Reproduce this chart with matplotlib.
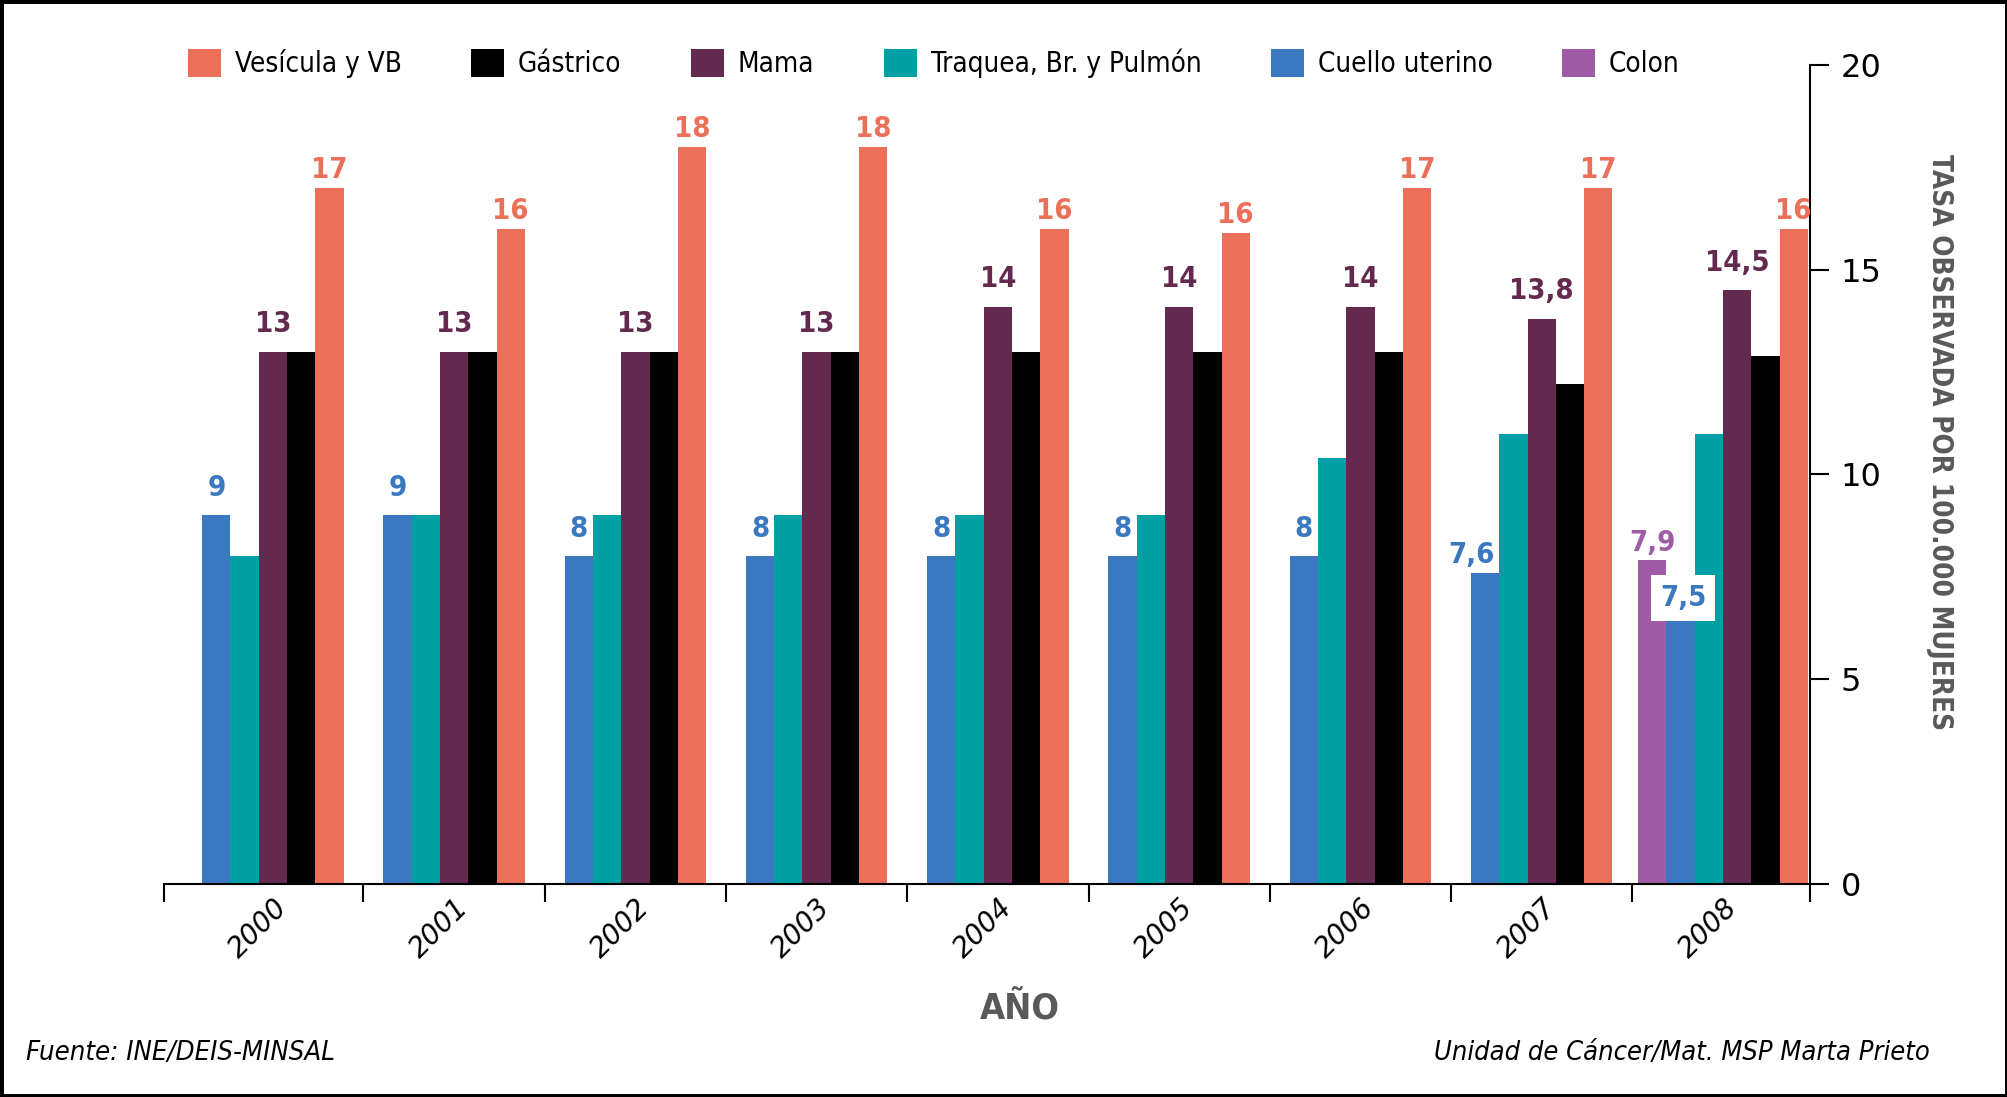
import numpy as np
import matplotlib
matplotlib.use("Agg")
import matplotlib.pyplot as plt
from matplotlib import font_manager
from matplotlib.patches import Patch, Rectangle

# datos (tasa observada por 100.000 mujeres)
years = ["2000", "2001", "2002", "2003", "2004", "2005", "2006", "2007", "2008"]
vesicula = [17, 16, 18, 18, 16, 15.9, 17, 17, 16]
gastrico = [13, 13, 13, 13, 13, 13, 13, 12.2, 12.9]
mama = [13, 13, 13, 13, 14.1, 14.1, 14.1, 13.8, 14.5]
traquea = [8, 9, 9, 9, 9, 9, 10.4, 11.0, 11.0]
cuello = [9, 9, 8, 8, 8, 8, 8, 7.6, 7.5]
colon = [np.nan] * 8 + [7.9]

vesicula_lbl = ["17", "16", "18", "18", "16", "16", "17", "17", "16"]
mama_lbl = ["13", "13", "13", "13", "14", "14", "14", "13,8", "14,5"]
cuello_lbl = ["9", "9", "8", "8", "8", "8", "8", "7,6", "7,5"]
colon_lbl = [""] * 8 + ["7,9"]

legend_names = ["Vesícula y VB", "Gástrico", "Mama", "Traquea, Br. y Pulmón",
                "Cuello uterino", "Colon"]

colores = {
    "vesicula": "#EC6F5A",
    "gastrico": "#000000",
    "mama": "#63294E",
    "traquea": "#00A0A5",
    "cuello": "#3A78BF",
    "colon": "#A05BA6",
}
gris = "#58595B"

# fuente angosta si existe
nombres = {f.name for f in font_manager.fontManager.ttflist}
if "Liberation Sans Narrow" in nombres:
    fuente = {"family": "Liberation Sans Narrow"}
else:
    fuente = {"family": "DejaVu Sans", "stretch": "condensed"}
plt.rcParams["font.family"] = fuente["family"]

fig = plt.figure(figsize=(20.08, 10.97), dpi=100)
ax = fig.add_axes([0.0817, 0.1942, 0.8197, 0.7466])

series = {
    "colon": colon,
    "cuello": cuello,
    "traquea": traquea,
    "mama": mama,
    "gastrico": gastrico,
    "vesicula": vesicula,
}

w = 0.156
posiciones = {k: [np.nan] * len(years) for k in series}
for i in range(len(years)):
    presentes = [k for k in series if not np.isnan(series[k][i])]
    n = len(presentes)
    for j, k in enumerate(presentes):
        xb = i + (j - (n - 1) / 2) * w
        posiciones[k][i] = xb
        ax.bar(xb, series[k][i], w, color=colores[k], zorder=2)

# etiquetas de valores
def etiqueta(key, textos, dy, dx=0):
    for i, t in enumerate(textos):
        if not t:
            continue
        ax.annotate(t, (posiciones[key][i], series[key][i]), xytext=(dx, dy),
                    textcoords="offset points", ha="center", va="baseline",
                    fontsize=21, fontweight="bold", color=colores[key], zorder=4, **fuente)

etiqueta("vesicula", vesicula_lbl, 7)
etiqueta("mama", mama_lbl, 14)
etiqueta("colon", colon_lbl, 7)
etiqueta("cuello", cuello_lbl[:7], 14)
ax.annotate(cuello_lbl[7], (posiciones["cuello"][7], cuello[7]), xytext=(-10, 7),
            textcoords="offset points", ha="center", va="baseline",
            fontsize=21, fontweight="bold", color=colores["cuello"], zorder=4, **fuente)
ax.annotate(cuello_lbl[8], (posiciones["cuello"][8], cuello[8]), xytext=(2, -5),
            textcoords="offset points", ha="center", va="top",
            fontsize=21, fontweight="bold", color=colores["cuello"], zorder=4,
            bbox=dict(facecolor="white", edgecolor="none", boxstyle="square,pad=0.3"),
            **fuente)

# ejes
ax.set_xlim(-0.60, 8.48)
ax.set_ylim(0, 20)
for s in ["left", "top"]:
    ax.spines[s].set_visible(False)
for s in ["right", "bottom"]:
    ax.spines[s].set_linewidth(1.5)

ax.yaxis.tick_right()
ax.set_yticks([0, 5, 10, 15, 20])
ax.tick_params(axis="y", length=14, width=1.5, pad=8, labelsize=23)

ax.set_xticks(np.arange(len(years)))
ax.set_xticklabels(years, rotation=45, ha="right", rotation_mode="anchor",
                   fontsize=20, fontstyle="italic")
ax.tick_params(axis="x", which="major", length=0, pad=7)
ax.set_xticks([-0.60] + [i + 0.5 for i in range(8)] + [8.48], minor=True)
ax.tick_params(axis="x", which="minor", length=13, width=1.5, direction="out")

# textos
fig.text(0.966, 0.597, "TASA OBSERVADA POR 100.000 MUJERES", rotation=270,
         ha="center", va="center", fontsize=20, fontweight="bold", color=gris, **fuente)
fig.text(0.508, 0.081, "AÑO", ha="center", va="center", fontsize=26,
         fontweight="bold", color=gris, **fuente)
fig.text(0.013, 0.040, "Fuente: INE/DEIS-MINSAL", ha="left", va="center",
         fontsize=19.7, fontstyle="italic", **fuente)
fig.text(0.961, 0.040, "Unidad de Cáncer/Mat. MSP Marta Prieto", ha="right",
         va="center", fontsize=19.5, fontstyle="italic", **fuente)

# leyenda
orden = ["vesicula", "gastrico", "mama", "traquea", "cuello", "colon"]
handles = [Patch(facecolor=colores[k], edgecolor="none") for k in orden]
prop = dict(size=20, **fuente)
fig.legend(handles, legend_names, loc="center", bbox_to_anchor=(0.465, 0.942),
           ncol=6, frameon=False, prop=prop, handlelength=1.19, handleheight=1.2,
           handletextpad=0.5, columnspacing=2.5)

# marco
fig.patches.append(Rectangle((0, 0), 1, 1, transform=fig.transFigure, fill=False,
                             edgecolor="black", linewidth=5))

fig.savefig("out.png", dpi=100)
